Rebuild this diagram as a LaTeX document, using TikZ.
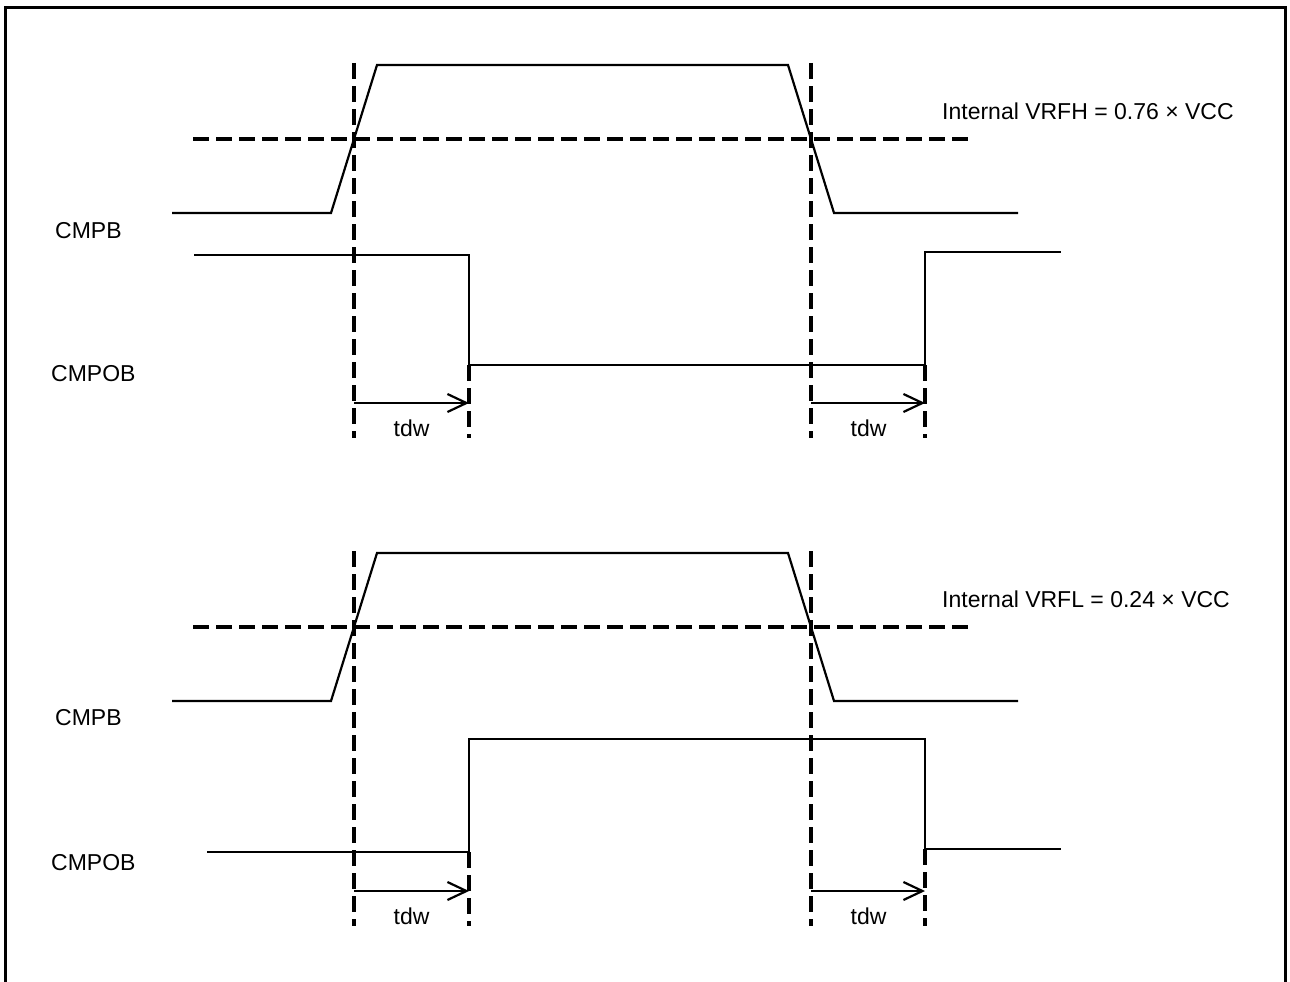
\documentclass[tikz,border=0pt]{standalone}
\usepackage{fontspec}
\setmainfont{Liberation Sans}
\usetikzlibrary{arrows.meta}
\begin{document}
\begin{tikzpicture}[x=1pt,y=-1pt,
  sig/.style={line width=2.2pt,line join=miter},
  vdash/.style={line width=3.2pt,dash pattern=on 16pt off 7pt},
  tarrow/.style={line width=2.2pt,-{Straight Barb[length=19pt,width=18pt,line width=2.2pt]}},
  lbl/.style={inner sep=0pt,font=\fontsize{23}{27}\selectfont}]
\useasboundingbox (0,0) rectangle (1290,982);
% frame, open at the bottom
\draw[line width=3.8pt] (5.5,982) -- (5.5,7.5) -- (1285.5,7.5) -- (1285.5,982);

% ---------- upper diagram ----------
\begin{scope}
  \draw[vdash] (354,63) -- (354,438);
  \draw[vdash] (811,63) -- (811,438);
  \draw[vdash] (469,365) -- (469,438);
  \draw[vdash] (925,365) -- (925,438);
  \draw[vdash] (193,139) -- (970,139);
  \draw[sig] (172,213) -- (331,213) -- (377,65) -- (788,65) -- (834,213) -- (1018,213);
  \draw[sig] (194,255) -- (469,255) -- (469,365) -- (925,365) -- (925,252) -- (1061,252);
  \coordinate (a1s) at (354,403); \coordinate (a1e) at (469,403);
  \coordinate (a2s) at (811,403); \coordinate (a2e) at (925,403);
  \draw[tarrow] (a1s) -- (a1e);
  \draw[tarrow] (a2s) -- (a2e);
  \node[lbl] (t1) at (411.5,428.5) {tdw};
  \node[lbl] (t2) at (868.5,428.5) {tdw};
  \node[lbl,anchor=west] (cmpb1) at (55,231) {CMPB};
  \node[lbl,anchor=west] (cmpob1) at (51,374) {CMPOB};
  \node[lbl,anchor=west] (vrfh) at (942,111) {Internal VRFH = 0.76 × VCC};
\end{scope}

% ---------- lower diagram ----------
\begin{scope}
  \draw[vdash] (354,551) -- (354,926);
  \draw[vdash] (811,551) -- (811,926);
  \draw[vdash] (469,852) -- (469,926);
  \draw[vdash] (925,849) -- (925,926);
  \draw[vdash] (193,627) -- (970,627);
  \draw[sig] (172,701) -- (331,701) -- (377,553) -- (788,553) -- (834,701) -- (1018,701);
  \draw[sig] (207,852) -- (469,852) -- (469,739) -- (925,739) -- (925,849) -- (1061,849);
  \coordinate (b1s) at (354,891); \coordinate (b1e) at (469,891);
  \coordinate (b2s) at (811,891); \coordinate (b2e) at (925,891);
  \draw[tarrow] (b1s) -- (b1e);
  \draw[tarrow] (b2s) -- (b2e);
  \node[lbl] (t3) at (411.5,916.5) {tdw};
  \node[lbl] (t4) at (868.5,916.5) {tdw};
  \node[lbl,anchor=west] (cmpb2) at (55,718) {CMPB};
  \node[lbl,anchor=west] (cmpob2) at (51,863) {CMPOB};
  \node[lbl,anchor=west] (vrfl) at (942,599) {Internal VRFL = 0.24 × VCC};
\end{scope}
\end{tikzpicture}
\end{document}
